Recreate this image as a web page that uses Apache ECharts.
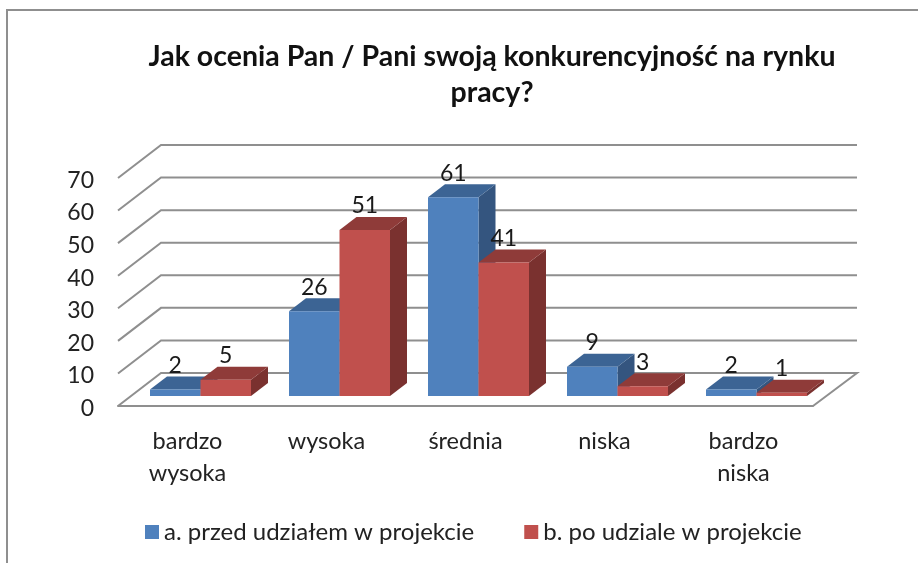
<!DOCTYPE html>
<html><head><meta charset="utf-8">
<style>html,body{margin:0;padding:0;background:#fff}#c{width:918px;height:563px}</style>
<script src="https://cdn.jsdelivr.net/npm/echarts@6/dist/echarts.min.js"></script>
</head><body><div id="c"></div>
<script>
const titleText = 'Jak ocenia Pan / Pani swoją konkurencyjność na rynku\npracy?';
const categories = ['bardzo\nwysoka', 'wysoka', 'średnia', 'niska', 'bardzo\nniska'];
const seriesAName = 'a. przed udziałem w projekcie';
const seriesBName = 'b. po udziale w projekcie';
const seriesA = [2, 26, 61, 9, 2];
const seriesB = [5, 51, 41, 3, 1];
const yTicks = [0, 10, 20, 30, 40, 50, 60, 70];
const FONT = 'Lato';
const WALL = [43, -33];          // projection of floor depth
const BAR_FRONT = [13, -10];     // front face of bars inside the floor
const BAR_DEPTH = [17, -13];
const LINE = '#8f8f8f';

function wallItem(params, api) {
  const cs = params.coordSys;
  const p = api.coord([0, api.value(1)]);
  const y = p[1];
  const pts = [[cs.x, y], [cs.x + WALL[0], y + WALL[1]], [cs.x + cs.width + WALL[0] + 1, y + WALL[1]]];
  if (api.value(1) === 0) pts.push([cs.x + cs.width, y]);
  return {type: 'polyline', shape: {points: pts}, silent: true,
    style: {stroke: LINE, lineWidth: 2, fill: null}};
}
function barItem(side, colors) {
  return function (params, api) {
    const band = api.size([1, 0])[0];
    const w = band * 0.3633;
    const v = api.value(1);
    const top = api.coord([api.value(0), v]);
    const base = api.coord([api.value(0), 0]);
    const x0 = top[0] + BAR_FRONT[0] + (side < 0 ? -w : 0);
    const x1 = x0 + w;
    const yt = top[1] + BAR_FRONT[1];
    const yb = base[1] + BAR_FRONT[1];
    const dx = BAR_DEPTH[0], dy = BAR_DEPTH[1];
    return {type: 'group', children: [
      {type: 'polygon', shape: {points: [[x1, yt], [x1 + dx, yt + dy], [x1 + dx, yb + dy], [x1, yb]]}, style: {fill: colors.side}},
      {type: 'polygon', shape: {points: [[x0, yt], [x0 + dx, yt + dy], [x1 + dx, yt + dy], [x1, yt]]}, style: {fill: colors.top}},
      {type: 'rect', shape: {x: x0, y: yt, width: w, height: yb - yt}, style: {fill: colors.front}},
      {type: 'text', style: {text: String(v), x: (x0 + x1) / 2, y: yt - 24, align: 'center', verticalAlign: 'middle',
        font: '23px ' + FONT, fill: '#1a1a1a'}, z2: 20}
    ]};
  };
}
const toPairs = a => a.map((v, i) => [i, v]);
const blue = {front: '#4f81bd', top: '#3c6494', side: '#34557f'};
const red = {front: '#c0504d', top: '#8f3b39', side: '#7a312f'};

const chart = echarts.init(document.getElementById('c'), null, {renderer: 'canvas'});
chart.setOption({
  animation: false,
  backgroundColor: '#fff',
  title: {text: titleText, left: 487, top: 34, textAlign: 'center',
    textStyle: {fontFamily: FONT, fontSize: 28.5, fontWeight: 'bold', color: '#111', lineHeight: 36}},
  legend: {left: 140, top: 515, icon: 'rect', itemWidth: 14, itemHeight: 14, itemGap: 50,
    data: [seriesAName, seriesBName],
    textStyle: {fontFamily: FONT, fontSize: 24, color: '#222'}},
  grid: {left: 118, top: 178, width: 695, height: 228},
  xAxis: {type: 'category', data: categories,
    axisLine: {show: true, lineStyle: {color: LINE, width: 2}}, axisTick: {show: false},
    splitLine: {show: false},
    axisLabel: {fontFamily: FONT, fontSize: 23.5, color: '#222', lineHeight: 32, margin: 19, interval: 0}},
  yAxis: {type: 'value', min: 0, max: 70, interval: 10,
    axisLine: {show: false}, axisTick: {show: false}, splitLine: {show: false},
    axisLabel: {margin: 24, formatter: '{v|{value}}',
      rich: {v: {fontFamily: FONT, fontSize: 23, color: '#222', padding: [5, 0, 0, 0]}}}},
  graphic: [
    {type: 'polyline', shape: {points: [[7, 563], [7, 10], [918, 10]]}, style: {stroke: '#8f8f8f', lineWidth: 2, fill: null}, silent: true}
  ],
  series: [
    {type: 'custom', name: 'walls', data: yTicks.map(t => [0, t]), encode: {x: 0, y: 1}, renderItem: wallItem, z: 1, silent: true, clip: false},
    {type: 'custom', name: seriesAName, data: toPairs(seriesA), encode: {x: 0, y: 1}, renderItem: barItem(-1, blue), itemStyle: {color: blue.front}, z: 2, clip: false},
    {type: 'custom', name: seriesBName, data: toPairs(seriesB), encode: {x: 0, y: 1}, renderItem: barItem(1, red), itemStyle: {color: red.front}, z: 3, clip: false}
  ]
});
</script></body></html>
